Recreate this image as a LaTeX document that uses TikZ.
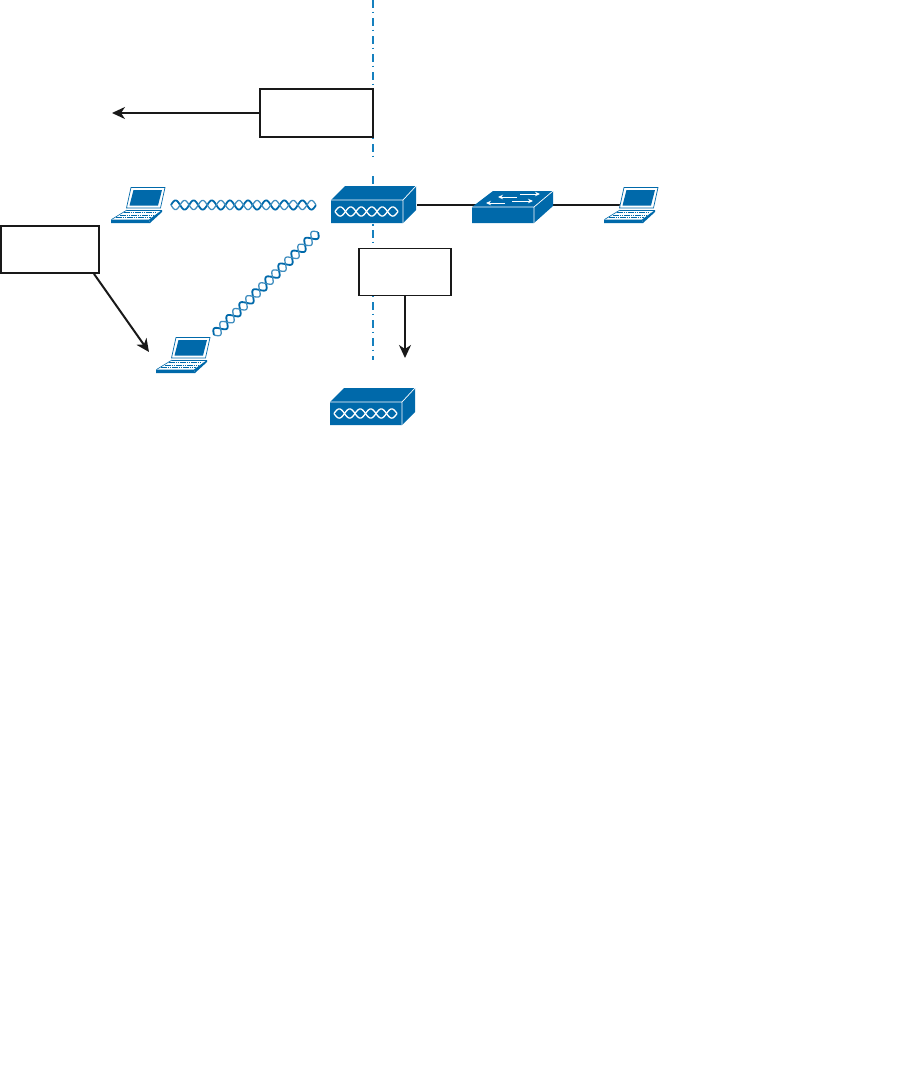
\documentclass[tikz,border=0pt]{standalone}
\usetikzlibrary{arrows.meta}
\definecolor{ciscoblue}{HTML}{0069AA}
\definecolor{axisblue}{HTML}{1680BE}
% two intertwined strands between two named points: #1 start, #2 end, #3 periods, #4 style A, #5 style B
\newcommand{\twistpair}[5]{%
  \path (#1); \pgfgetlastxy{\twxa}{\twya}%
  \path (#2); \pgfgetlastxy{\twxb}{\twyb}%
  \pgfmathsetmacro{\twlen}{veclen(\twxb-\twxa,\twyb-\twya)}%
  \pgfmathsetmacro{\twnx}{-(\twyb-\twya)/\twlen}%
  \pgfmathsetmacro{\twny}{(\twxb-\twxa)/\twlen}%
  \draw[#4] plot[domain=0:1,samples=240,variable=\uu] ({\twxa+\uu*(\twxb-\twxa)+4.6pt*sin(360*#3*\uu)*\twnx},{\twya+\uu*(\twyb-\twya)+4.6pt*sin(360*#3*\uu)*\twny});
  \draw[#5] plot[domain=0:1,samples=240,variable=\uu] ({\twxa+\uu*(\twxb-\twxa)-4.6pt*sin(360*#3*\uu)*\twnx},{\twya+\uu*(\twyb-\twya)-4.6pt*sin(360*#3*\uu)*\twny});
}
\tikzset{
  labelbox/.style={draw=black!90,line width=1.8pt,fill=white,inner sep=0pt,rectangle},
  iconslot/.style={inner sep=0pt,rectangle},
  conn/.style={draw=black!90,line width=2pt},
  pointer/.style={draw=black!90,line width=2pt,-{Stealth[length=13pt,width=12pt,inset=4pt]}},
  axisline/.style={draw=axisblue,line width=1.5pt,dash pattern=on 8pt off 3.5pt on 1.6pt off 4.9pt},
  strandA/.style={draw=ciscoblue,line width=1.8pt},
  strandB/.style={draw=ciscoblue!75!white,line width=1.3pt},
  strandW/.style={draw=white,line width=1.3pt},
  hubicon/.pic={
    \fill[ciscoblue] (0,0) -- (0,-23) -- (14,-37) -- (85,-37) -- (85,-13) -- (72,0) -- cycle;
    \draw[white,line width=.7pt] (0,-23) -- (72,-23) -- (85,-37) (72,-23) -- (72,0);
    \draw[strandW] plot[domain=4:67,samples=120] (\x,{-11.5+4.6*sin(17.142857*(\x-4))});
    \draw[strandW] plot[domain=4:67,samples=120] (\x,{-11.5-4.6*sin(17.142857*(\x-4))});
  },
  switchicon/.pic={
    \fill[ciscoblue] (0,0) -- (0,-16) -- (21,-32) -- (81,-32) -- (81,-17) -- (62,0) -- cycle;
    \draw[white,line width=.7pt] (0,-16) -- (62,-16) -- (81,-32) (62,-16) -- (62,0);
    \begin{scope}[white,line width=.9pt,-{Stealth[length=5pt,width=4.5pt]}]
      \draw (45,-26) -- (26,-26);
      \draw (48,-29) -- (68,-29);
      \draw (33,-20) -- (14,-20);
      \draw (40,-22) -- (61,-22);
    \end{scope}
  },
  laptopicon/.pic={
    \fill[white] (20,-36) -- (54,-36) -- (49,-14) -- (15,-14) -- cycle;
    \draw[ciscoblue,line width=.7pt] (20,-35.5) -- (54,-35.5) -- (49.5,-15) -- (15.5,-15) -- cycle;
    \fill[ciscoblue] (22.5,-33) -- (51,-33) -- (47,-17.5) -- (18.5,-17.5) -- cycle;
    \fill[ciscoblue] (0,-3.5) -- (38,-3.5) -- (39,0) -- (0,0) -- cycle;
    \fill[ciscoblue] (38,-3.5) -- (51,-13) -- (51,-11) -- (39,0) -- cycle;
    \draw[ciscoblue,line width=.6pt] (16,-13) -- (51,-13);
    \draw[ciscoblue,line width=.6pt] (0.5,-3.5) -- (16,-13);
    \draw[ciscoblue,line width=.7pt,dash pattern=on 1.6pt off .6pt] (13,-10.5) -- (46,-10.5);
    \draw[ciscoblue,line width=.7pt,dash pattern=on 1.6pt off .6pt] (9,-8) -- (43,-8);
    \draw[ciscoblue,line width=.7pt,dash pattern=on 1.6pt off .6pt] (5,-5.5) -- (40,-5.5);
  }
}
\begin{document}
\begin{tikzpicture}[x=1pt,y=-1pt]
\useasboundingbox (0,0) rectangle (916,1069);
% icon slots
\node[iconslot,minimum width=86pt,minimum height=37pt] (hubA) at (374,204.5) {};
\node[iconslot,minimum width=85pt,minimum height=35pt] (hubB) at (372.5,406.5) {};
\node[iconslot,minimum width=81pt,minimum height=32pt] (sw) at (512.5,207) {};
\node[iconslot,minimum width=53pt,minimum height=36pt] (lapA) at (137.5,205) {};
\node[iconslot,minimum width=53pt,minimum height=36pt] (lapB) at (182.5,355) {};
\node[iconslot,minimum width=53pt,minimum height=36pt] (lapC) at (630.5,205) {};
% free ends
\coordinate (axisTop) at (373,0);
\coordinate (axisA) at (373,157);
\coordinate (axisB) at (373,176);
\coordinate (axisC) at (373,225);
\coordinate (axisD) at (373,360);
\coordinate (waveAs) at (171,205);
\coordinate (waveAe) at (316,205);
\coordinate (waveBs) at (214,335);
\coordinate (waveBe) at (318,232);
\coordinate (tipA) at (112,113);
\coordinate (tipB) at (149,352);
\coordinate (tipC) at (405,358);
% axis
\draw[axisline] (axisTop) -- (axisA);
\draw[axisline] (axisB) -- (axisC) -- (axisD);
% cables
\draw[conn] (hubA.east) -- (hubA.east -| sw.center);
\draw[conn] (hubA.east -| sw.center) -- (hubA.east -| lapC.center);
% icons
\pic at (331,223) {hubicon};
\pic at (330,425) {hubicon};
\pic at (472,223) {switchicon};
\pic at (111,223) {laptopicon};
\pic at (156,373) {laptopicon};
\pic at (604,223) {laptopicon};
% waves
\twistpair{waveAs}{waveAe}{8}{strandA}{strandB}
\twistpair{waveBs}{waveBe}{8}{strandA}{strandB}
% boxes
\node[labelbox,minimum width=113pt,minimum height=48pt] (boxA) at (316.5,113) {};
\node[labelbox,minimum width=98pt,minimum height=47pt] (boxB) at (50,249.5) {};
\node[labelbox,minimum width=92pt,minimum height=47pt] (boxC) at (405,272) {};
% pointers
\draw[pointer] (boxA.west) -- (tipA);
\draw[pointer] (boxB.-29) -- (tipB);
\draw[pointer] (boxC.south) -- (tipC);
\end{tikzpicture}
\end{document}
